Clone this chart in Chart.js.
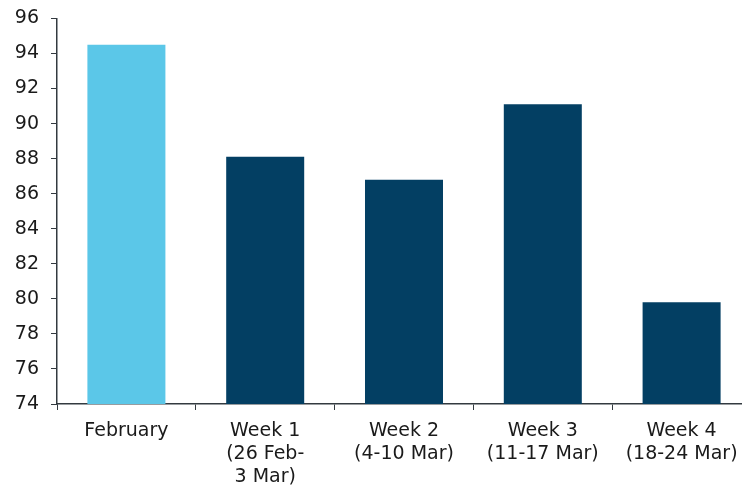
<!DOCTYPE html>
<html>
<head>
<meta charset="utf-8">
<script src="https://cdn.jsdelivr.net/npm/chart.js@4"></script>
<style>
  html, body { margin: 0; padding: 0; background: #fff; overflow: hidden; }
  #wrap { width: 751px; height: 494px; position: relative; top: -5px; }
</style>
</head>
<body>
<div id="wrap"><canvas id="chart"></canvas></div>
<script>
// Data
const categories = [
    'February',
    ['Week 1', '(26 Feb-', '3 Mar)'],
    ['Week 2', '(4-10 Mar)'],
    ['Week 3', '(11-17 Mar)'],
    ['Week 4', '(18-24 Mar)']
];
const values = [94.5, 88.1, 86.8, 91.1, 79.8];
const barColors = ['#5bc7e8', '#033f63', '#033f63', '#033f63', '#033f63'];
const yMin = 74, yMax = 96, yStep = 2;

const axisColor = '#333a40';
const font = { family: 'DejaVu Sans', size: 19, lineHeight: 1.2 };

new Chart(document.getElementById('chart').getContext('2d'), {
    type: 'bar',
    data: {
        labels: categories,
        datasets: [{ data: values, backgroundColor: barColors, borderWidth: 0, barPercentage: 0.562, categoryPercentage: 1 }]
    },
    options: {
        responsive: true,
        maintainAspectRatio: false,
        animation: false,
        layout: { padding: { top: 3, right: 0, left: 0, bottom: 0 } },
        plugins: { legend: { display: false }, tooltip: { enabled: false } },
        scales: {
            x: {
                grid: { display: true, drawOnChartArea: false, offset: true, color: axisColor, tickLength: 6 },
                border: { color: axisColor, width: 1.5 },
                ticks: { color: '#1a1a1a', font: font, padding: 10, maxRotation: 0, autoSkip: false },
                afterFit: s => { s.height = 85; }
            },
            y: {
                min: yMin, max: yMax,
                grid: { display: true, drawOnChartArea: false, color: axisColor, tickLength: 6 },
                border: { color: axisColor, width: 1.5 },
                ticks: { stepSize: yStep, color: '#1a1a1a', font: font, padding: 12 },
                afterFit: s => { s.width = 57; }
            }
        }
    }
});
</script>
</body>
</html>
